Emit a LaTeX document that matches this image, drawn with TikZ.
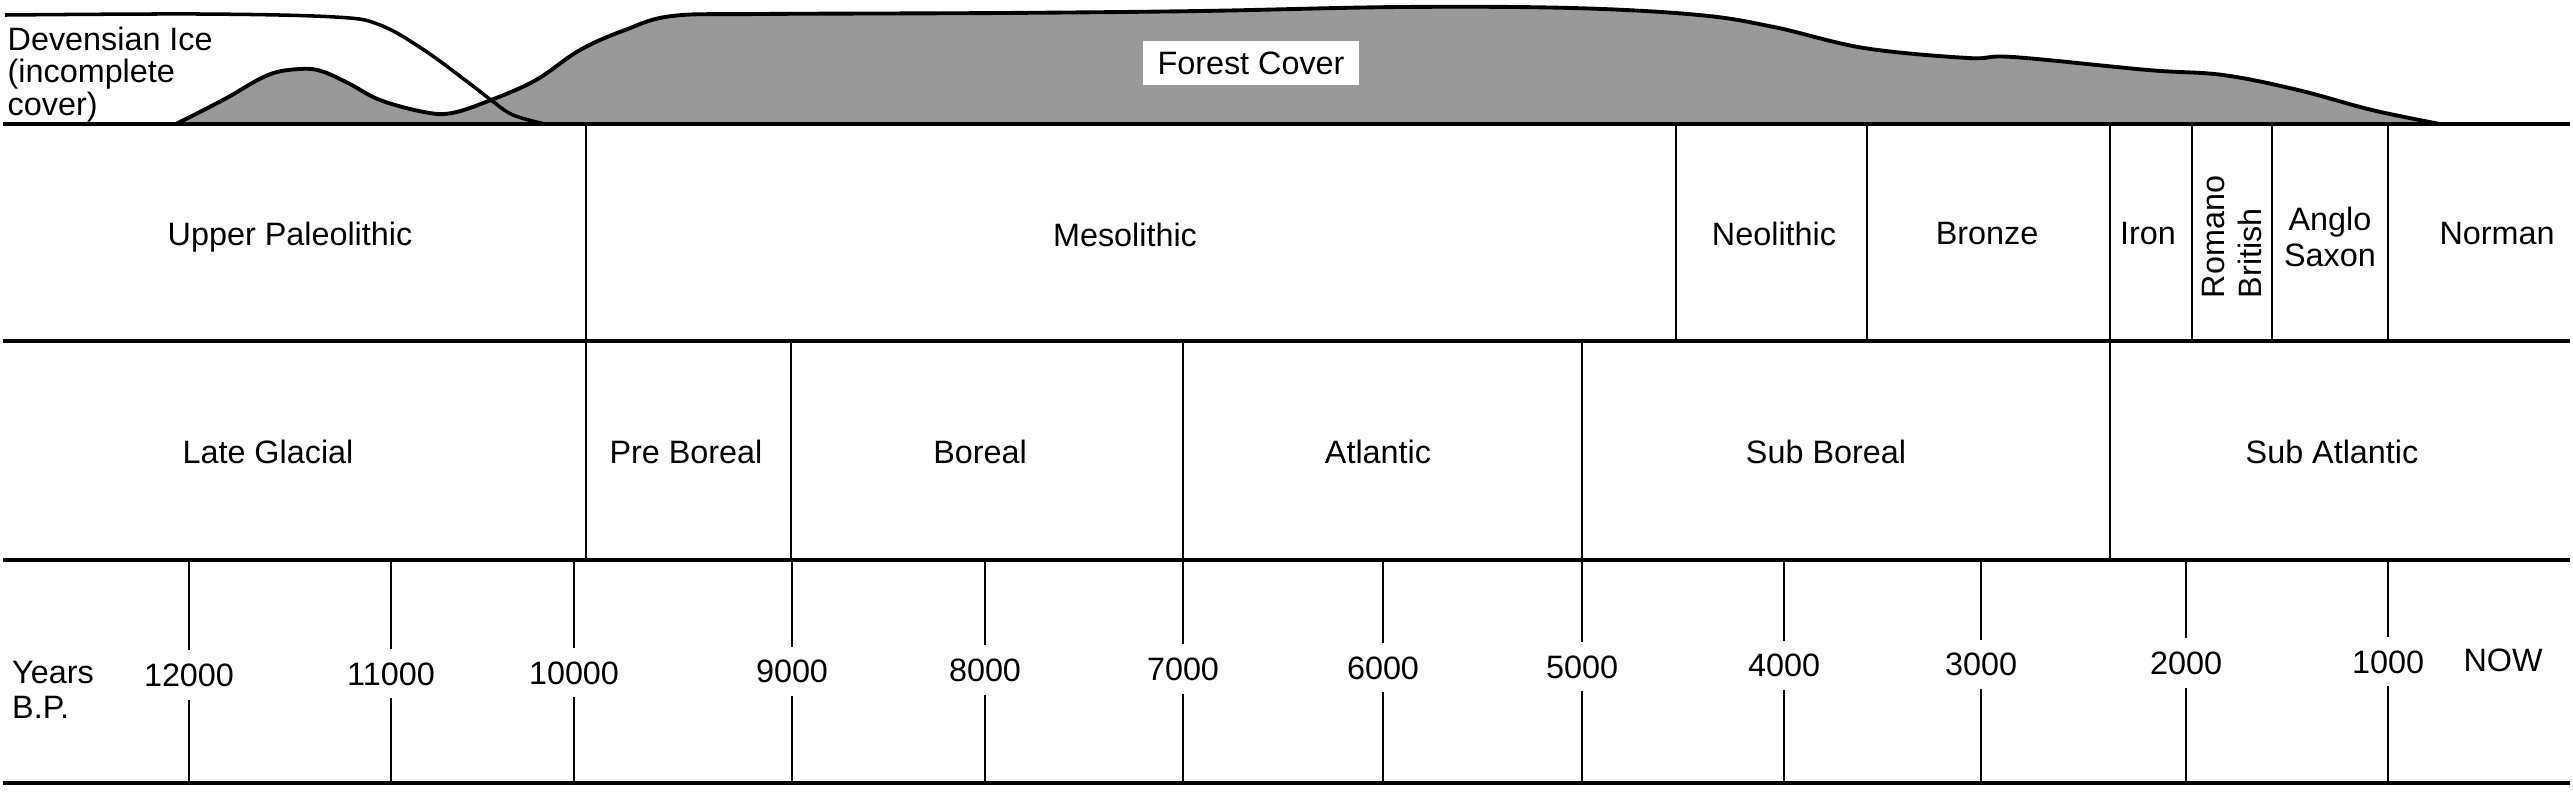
\documentclass[tikz,border=0pt]{standalone}
\usepackage{fontspec}
\setmainfont{Liberation Sans}
\usetikzlibrary{positioning}

\begin{document}
\begin{tikzpicture}[x=0.01cm,y=-0.01cm,
  every node/.style={font=\fontsize{9.2}{10}\selectfont,inner sep=1pt},
  rule/.style={line width=1pt},
  sep/.style={line width=0.8pt},
  cover/.style={fill=black!40,draw=black,line width=1.1pt},
  yearlab/.style={text height=6.6pt,text depth=0pt,inner ysep=3.5pt}]
\useasboundingbox (0,0) rectangle (2573,796);

% Forest cover
\draw[cover] plot[smooth,tension=0.6] coordinates {(176,124) (223,100) (268,75) (300,69) (321,71) (348,83) (380,100) (424,112) (452,113) (491,100) (536,80) (580,50) (625,30) (672,16) (760,14) (1000,13) (1200,11) (1400,7) (1572,8) (1699,15) (1774,27) (1864,48) (1968,58) (2013,57) (2148,70) (2223,75) (2298,90) (2372,110) (2440,124)} -- cycle;

% Devensian ice
\draw[line width=1pt] plot[smooth,tension=0.6] coordinates {(5,15) (200,14) (335,17) (380,25) (424,50) (469,83) (491,100) (513,115) (545,124)};

% Rows
\foreach \y in {124,341,560,783}
  \draw[rule] (3,\y) -- (2570,\y);

% Boundaries
\foreach \x/\a/\b in {586/124/560, 1676/124/341, 1867/124/341, 2110/124/560, 2192/124/341, 2272/124/341, 2388/124/341, 791/341/560, 1183/341/560, 1582/341/560}
  \draw[sep] (\x,\a) -- (\x,\b);

% Top labels
\node (forest) [fill=white,inner xsep=4pt,inner ysep=3pt] at (1251,63) {Forest Cover};
\node (ice) [anchor=north west,align=left,font=\fontsize{9.2}{9.3}\selectfont,inner sep=0pt] at (7,26) {Devensian Ice\\(incomplete\\cover)};

% Cultures
\node (upal) at (290,237) {Upper Paleolithic};
\node (meso) at (1125,235) {Mesolithic};
\node (neo) at (1774,234) {Neolithic};
\node (bronze) at (1987,234) {Bronze};
\node (iron) at (2148,234) {Iron};
\node (roman) [rotate=90,align=left,font=\fontsize{9.2}{10.5}\selectfont] at (2232,237) {Romano\\British};
\node (anglo) [align=center] at (2330,237) {Anglo\\Saxon};
\node (norman) at (2497,234) {Norman};

% Climate periods
\node (lgl) at (268,452) {Late Glacial};
\node (preb) at (686,452) {Pre Boreal};
\node (bor) at (980,452) {Boreal};
\node (atl) at (1378,452) {Atlantic};
\node (subb) at (1826,452) {Sub Boreal};
\node (suba) at (2332,452) {Sub Atlantic};

% Years
\node (years) [anchor=west,align=left] at (8,690) {Years\\B.P.};
\foreach \x/\yr in {189/12000, 391/11000, 574/10000, 792/9000, 985/8000, 1183/7000, 1383/6000, 1582/5000, 1784/4000, 1981/3000, 2186/2000, 2388/1000} {
  \pgfmathsetmacro{\yl}{676-0.006*\x}
  \node (y\yr) [yearlab] at (\x,\yl) {\yr};
  \draw[sep] (y\yr.north) -- (\x,560);
  \draw[sep] (y\yr.south) -- (\x,783);
}
\node (now) at (2503,660) {NOW};
\end{tikzpicture}
\end{document}
